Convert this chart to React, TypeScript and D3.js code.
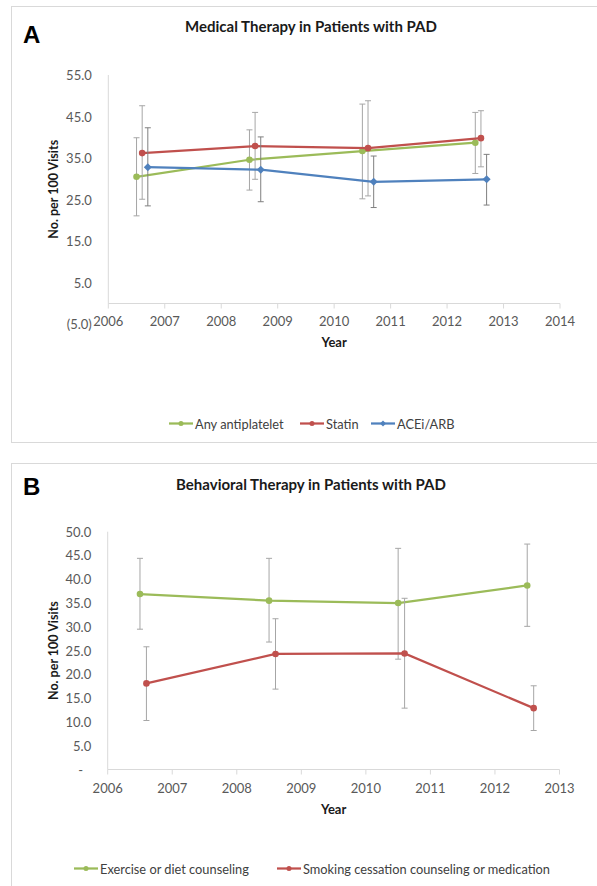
import React from "react";
import * as d3 from "d3";

// ---------- Panel A data ----------
const yearTicksA = [2006, 2007, 2008, 2009, 2010, 2011, 2012, 2013, 2014];
const valueTicksA = [-5, 5, 15, 25, 35, 45, 55];

const antiplateletX = [2006.5, 2008.5, 2010.5, 2012.5];
const antiplateletY = [30.5, 34.6, 36.7, 38.7];
const antiplateletLow = [21.1, 27.3, 25.2, 31.3];
const antiplateletHigh = [39.9, 41.8, 48.0, 46.0];

const statinX = [2006.6, 2008.6, 2010.6, 2012.6];
const statinY = [36.2, 37.9, 37.4, 39.8];
const statinLow = [25.1, 29.9, 25.9, 32.9];
const statinHigh = [47.6, 46.0, 48.8, 46.4];

const aceX = [2006.7, 2008.7, 2010.7, 2012.7];
const aceY = [32.8, 32.2, 29.3, 29.9];
const aceLow = [23.5, 24.5, 23.1, 23.7];
const aceHigh = [42.3, 40.1, 35.5, 35.9];

// ---------- Panel B data ----------
const yearTicksB = [2006, 2007, 2008, 2009, 2010, 2011, 2012, 2013];
const valueTicksB = [0, 5, 10, 15, 20, 25, 30, 35, 40, 45, 50];

const exerciseX = [2006.5, 2008.5, 2010.5, 2012.5];
const exerciseY = [36.9, 35.5, 35.0, 38.7];
const exerciseLow = [29.5, 26.8, 23.2, 30.1];
const exerciseHigh = [44.4, 44.4, 46.5, 47.4];

const smokingX = [2006.6, 2008.6, 2010.6, 2012.6];
const smokingY = [18.1, 24.3, 24.4, 12.9];
const smokingLow = [10.3, 16.9, 12.9, 8.2];
const smokingHigh = [25.8, 31.7, 36.0, 17.6];

const GREEN = "#9BBB59";
const RED = "#C0504D";
const BLUE = "#4F81BD";
const FONT = "Lato, 'Open Sans', sans-serif";

type Series = {
  name: string;
  color: string;
  marker: "circle" | "diamond";
  errColor: string;
  x: number[];
  y: number[];
  low: number[];
  high: number[];
};

type LegendItem = { name: string; color: string; marker: "circle" | "diamond"; x: number };

type PanelProps = {
  letter: string;
  title: string;
  top: number;
  frameH: number;
  xDomain: [number, number];
  xRange: [number, number];
  yDomain: [number, number];
  yRange: [number, number];
  xTicks: number[];
  yTicks: number[];
  yFmt: (v: number) => string;
  series: Series[];
  legend: LegendItem[];
  legendY: number;
  titleY: number;
  letterY: number;
  xLabelY: number;
  yearY: number;
};

function Marker({ kind, x, y, color }: { kind: string; x: number; y: number; color: string }) {
  if (kind === "diamond") {
    const s = 4;
    return <path d={`M${x},${y - s}L${x + s},${y}L${x},${y + s}L${x - s},${y}Z`} fill={color} />;
  }
  return <circle cx={x} cy={y} r={3.3} fill={color} />;
}

function Panel(p: PanelProps) {
  const x = d3.scaleLinear().domain(p.xDomain).range(p.xRange);
  const y = d3.scaleLinear().domain(p.yDomain).range(p.yRange);
  const y0 = y(0);
  const yTop = y(p.yDomain[1]);
  const xMid = (p.xRange[0] + p.xRange[1]) / 2;
  const line = d3
    .line<[number, number]>()
    .x((d) => x(d[0]))
    .y((d) => y(d[1]));
  const cap = 3;
  return (
    <g>
      <rect x={11.5} y={p.top} width={620} height={p.frameH} fill="#fff" stroke="#d9d9d9" strokeWidth={1} />
      <text x={23} y={p.letterY} fontFamily="'Liberation Sans', Arial, sans-serif" fontWeight="bold" fontSize={24} fill="#000">
        {p.letter}
      </text>
      <text x={311} y={p.titleY} textAnchor="middle" fontFamily={FONT} fontWeight="bold" fontSize={15} fill="#1a1a1a">
        {p.title}
      </text>
      {/* axes */}
      <line x1={p.xRange[0]} x2={p.xRange[0]} y1={yTop} y2={y0} stroke="#d9d9d9" strokeWidth={1} />
      <line x1={p.xRange[0]} x2={p.xRange[1]} y1={y0} y2={y0} stroke="#d9d9d9" strokeWidth={1} />
      {p.xTicks.map((t) => (
        <g key={"xt" + t}>
          <line x1={x(t)} x2={x(t)} y1={y0} y2={y0 + 5} stroke="#d9d9d9" strokeWidth={1} />
          <text x={x(t)} y={p.xLabelY} textAnchor="middle" dominantBaseline="central" fontFamily={FONT} fontSize={13} fill="#595959">
            {t}
          </text>
        </g>
      ))}
      {p.yTicks.map((t) => (
        <text
          key={"yt" + t}
          x={p.xRange[0] - 16.5 - (t === 0 ? 8 : 0)}
          y={y(t)}
          textAnchor="end"
          dominantBaseline="central"
          fontFamily={FONT}
          fontSize={13}
          fill="#595959"
        >
          {p.yFmt(t)}
        </text>
      ))}
      <text
        transform={`translate(53,${(yTop + y0) / 2}) rotate(-90)`}
        textAnchor="middle"
        dominantBaseline="central"
        fontFamily={FONT}
        fontWeight="bold"
        fontSize={12.5}
        fill="#1a1a1a"
      >
        No. per 100 Visits
      </text>
      <text x={xMid} y={p.yearY} textAnchor="middle" dominantBaseline="central" fontFamily={FONT} fontWeight="bold" fontSize={13} fill="#1a1a1a">
        Year
      </text>
      {/* series */}
      {p.series.map((s) => (
        <g key={s.name}>
          {s.x.map((xv, i) => (
            <g key={i} stroke={s.errColor} strokeWidth={1}>
              <line x1={x(xv)} x2={x(xv)} y1={y(s.low[i])} y2={y(s.high[i])} />
              <line x1={x(xv) - cap} x2={x(xv) + cap} y1={y(s.low[i])} y2={y(s.low[i])} />
              <line x1={x(xv) - cap} x2={x(xv) + cap} y1={y(s.high[i])} y2={y(s.high[i])} />
            </g>
          ))}
          <path d={line(s.x.map((xv, i) => [xv, s.y[i]] as [number, number])) || ""} fill="none" stroke={s.color} strokeWidth={2.25} />
          {s.x.map((xv, i) => (
            <Marker key={"m" + i} kind={s.marker} x={x(xv)} y={y(s.y[i])} color={s.color} />
          ))}
        </g>
      ))}
      {/* legend */}
      {p.legend.map((l) => (
        <g key={"lg" + l.name}>
          <line x1={l.x} x2={l.x + 24} y1={p.legendY} y2={p.legendY} stroke={l.color} strokeWidth={2.25} />
          {l.marker === "diamond" ? (
            <path d={`M${l.x + 12},${p.legendY - 3}L${l.x + 15},${p.legendY}L${l.x + 12},${p.legendY + 3}L${l.x + 9},${p.legendY}Z`} fill={l.color} />
          ) : (
            <circle cx={l.x + 12} cy={p.legendY} r={2.5} fill={l.color} />
          )}
          <text x={l.x + 26} y={p.legendY} dominantBaseline="central" fontFamily={FONT} fontSize={12.8} fill="#404040">
            {l.name}
          </text>
        </g>
      ))}
    </g>
  );
}

const seriesA: Series[] = [
  { name: "Any antiplatelet", color: GREEN, marker: "circle", errColor: "#a6a6a6", x: antiplateletX, y: antiplateletY, low: antiplateletLow, high: antiplateletHigh },
  { name: "Statin", color: RED, marker: "circle", errColor: "#a6a6a6", x: statinX, y: statinY, low: statinLow, high: statinHigh },
  { name: "ACEi/ARB", color: BLUE, marker: "diamond", errColor: "#7f7f7f", x: aceX, y: aceY, low: aceLow, high: aceHigh },
];

const seriesB: Series[] = [
  { name: "Exercise or diet counseling", color: GREEN, marker: "circle", errColor: "#a6a6a6", x: exerciseX, y: exerciseY, low: exerciseLow, high: exerciseHigh },
  { name: "Smoking cessation counseling or medication", color: RED, marker: "circle", errColor: "#a6a6a6", x: smokingX, y: smokingY, low: smokingLow, high: smokingHigh },
];

export default function App() {
  return (
    <svg width={597} height={886} style={{ position: "absolute", left: 0, top: 0, background: "#fff" }}>
      <rect width={597} height={886} fill="#fff" />
      <Panel
        letter="A"
        title="Medical Therapy in Patients with PAD"
        top={6.5}
        frameH={436}
        xDomain={[2006, 2014]}
        xRange={[108.3, 560]}
        yDomain={[-5, 55]}
        yRange={[324.3, 75]}
        xTicks={yearTicksA}
        yTicks={valueTicksA}
        yFmt={(v) => (v < 0 ? `(${Math.abs(v).toFixed(1)})` : v.toFixed(1))}
        series={seriesA}
        legend={[
          { name: "Any antiplatelet", color: GREEN, marker: "circle", x: 169 },
          { name: "Statin", color: RED, marker: "circle", x: 300 },
          { name: "ACEi/ARB", color: BLUE, marker: "diamond", x: 371 },
        ]}
        legendY={423.5}
        titleY={32}
        letterY={43}
        xLabelY={320.5}
        yearY={341.5}
      />
      <Panel
        letter="B"
        title="Behavioral Therapy in Patients with PAD"
        top={463.5}
        frameH={440}
        xDomain={[2006, 2013]}
        xRange={[107.7, 559.5]}
        yDomain={[0, 50]}
        yRange={[769.5, 531.7]}
        xTicks={yearTicksB}
        yTicks={valueTicksB}
        yFmt={(v) => (v === 0 ? "-" : v.toFixed(1))}
        series={seriesB}
        legend={[
          { name: "Exercise or diet counseling", color: GREEN, marker: "circle", x: 74 },
          { name: "Smoking cessation counseling or medication", color: RED, marker: "circle", x: 277 },
        ]}
        legendY={868.5}
        titleY={490}
        letterY={495}
        xLabelY={787.5}
        yearY={809}
      />
    </svg>
  );
}
